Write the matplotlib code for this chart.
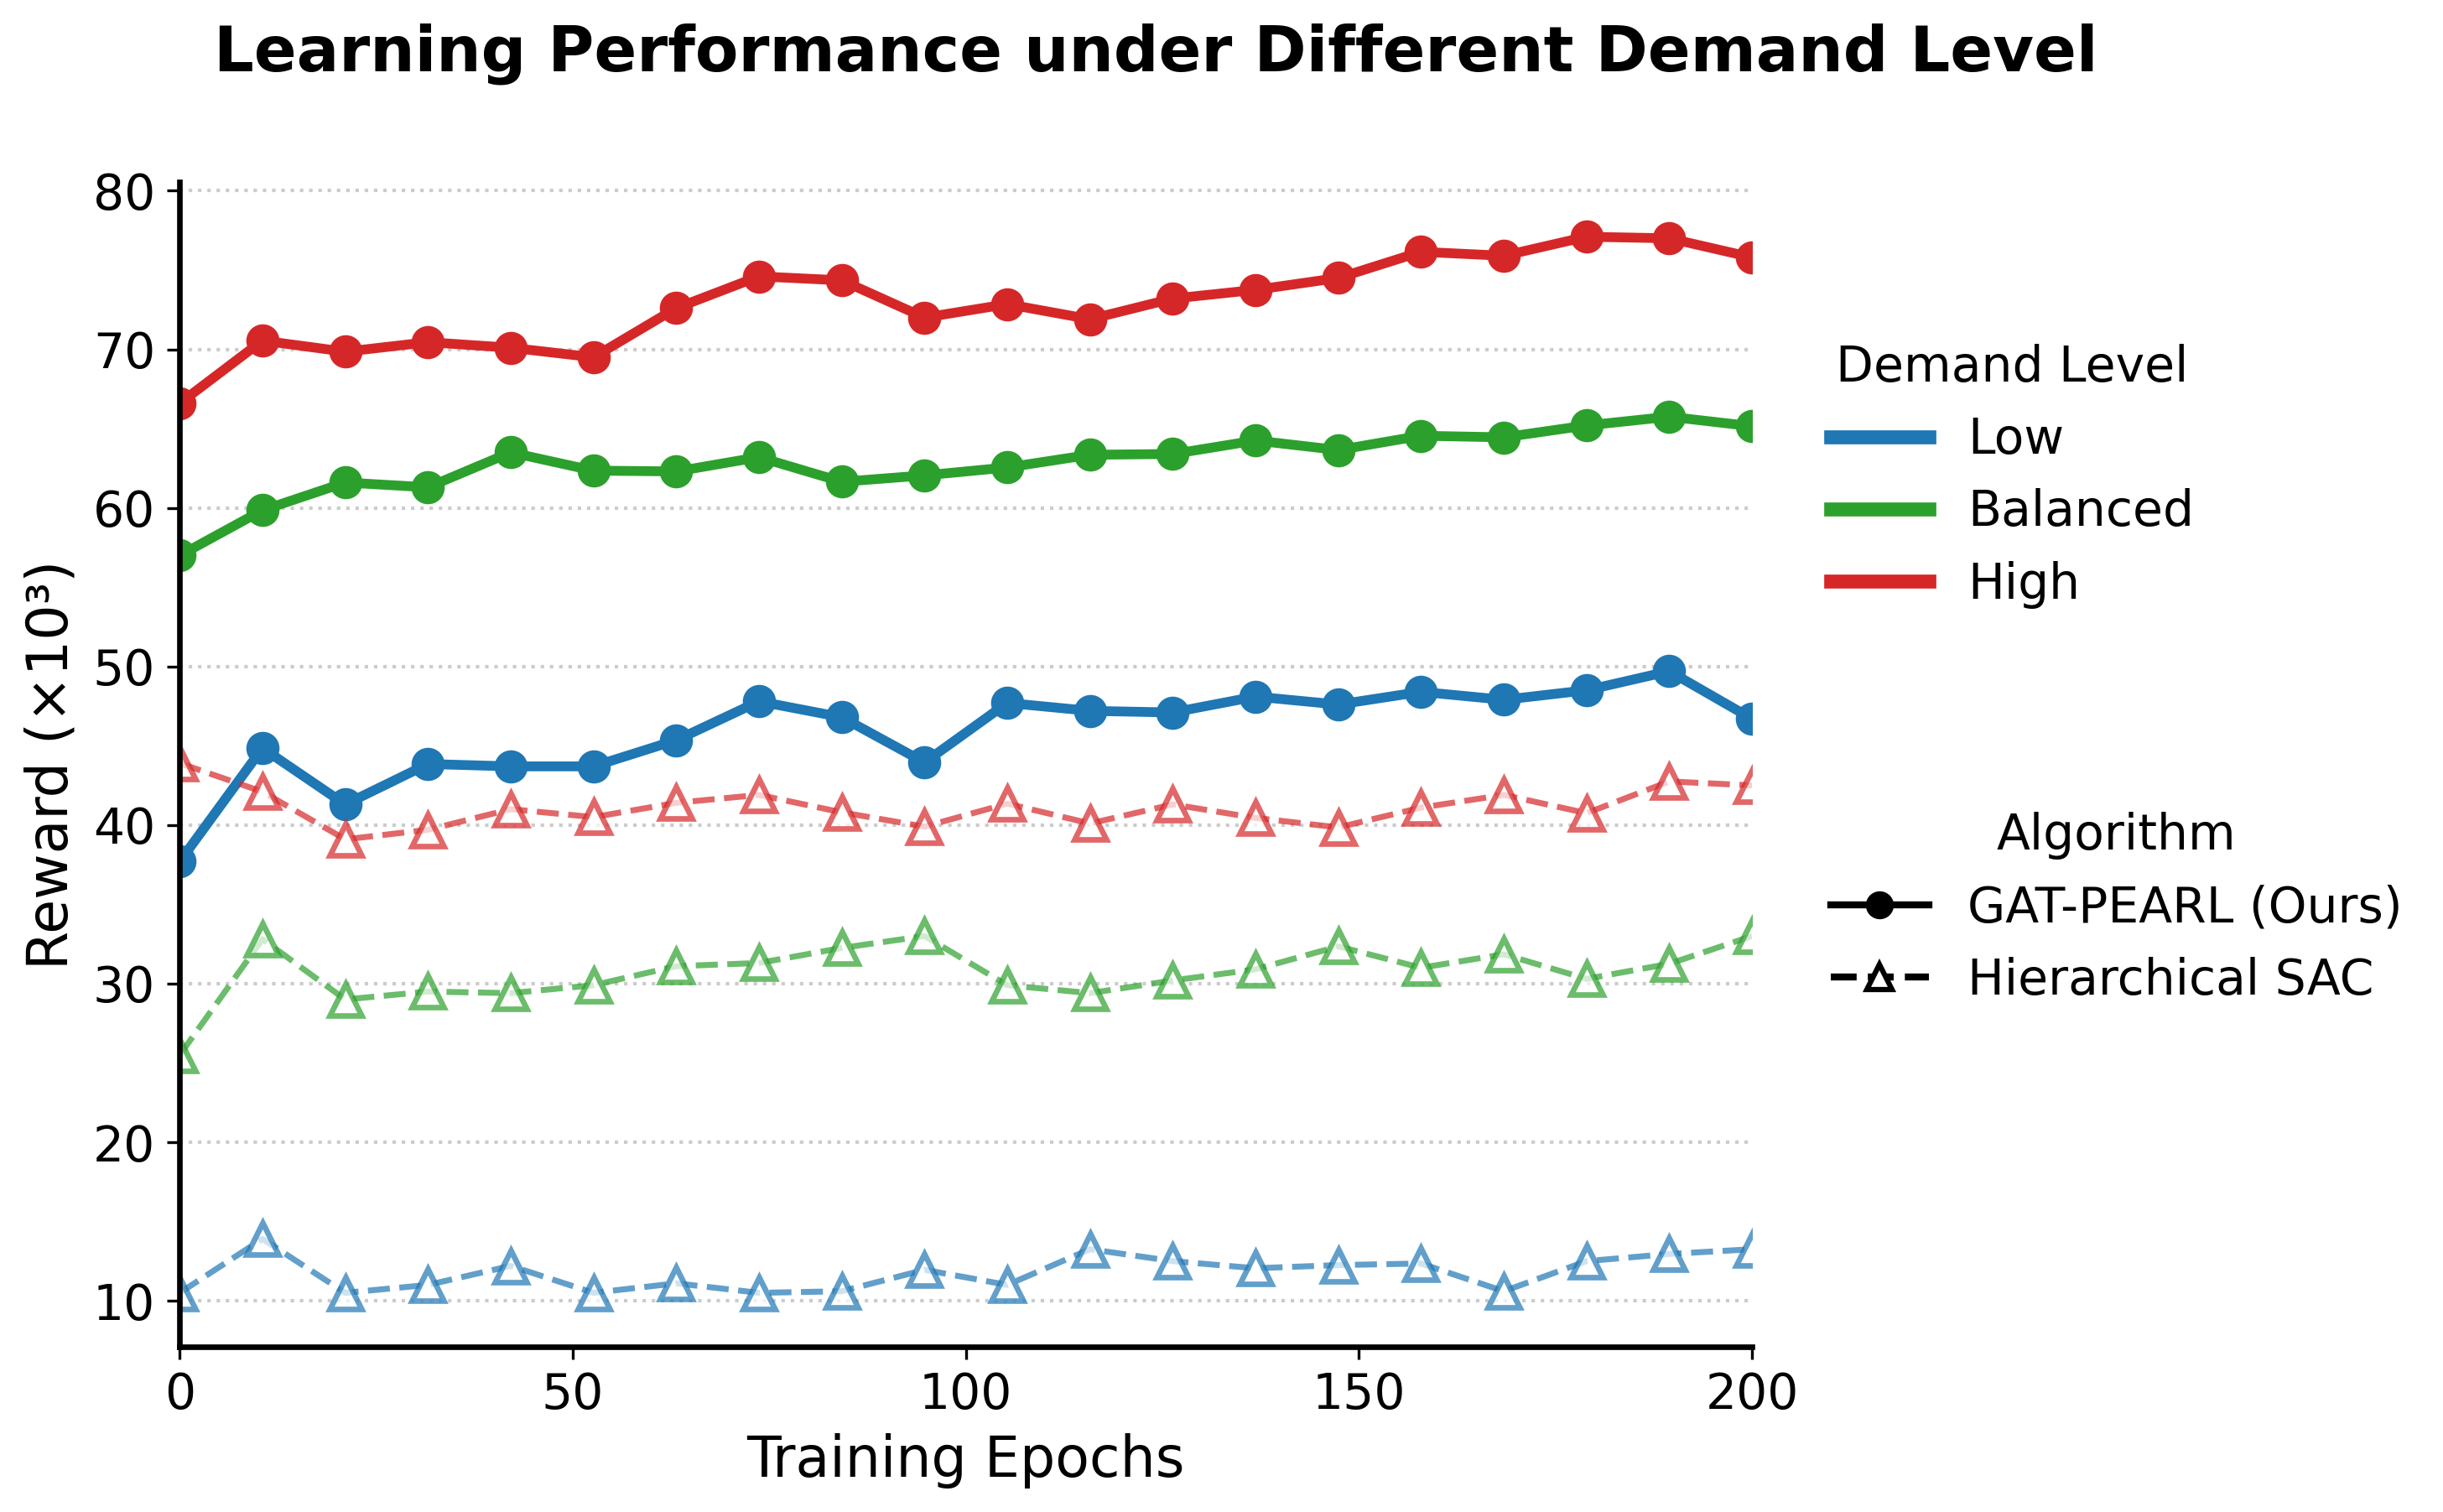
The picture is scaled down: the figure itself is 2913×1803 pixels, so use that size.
import numpy as np
import matplotlib.pyplot as plt
from matplotlib.lines import Line2D

# Epochs (20 evaluation points)
epochs = np.linspace(0, 200, 20)

# GAT-PEARL (Ours) reward, x10^3
gat_low = [37.7, 44.85, 41.3, 43.85, 43.7, 43.7, 45.35, 47.8, 46.8, 43.95,
           47.7, 47.2, 47.1, 48.1, 47.6, 48.4, 47.9, 48.5, 49.7, 46.7]
gat_bal = [57.0, 59.85, 61.6, 61.3, 63.5, 62.35, 62.3, 63.2, 61.65, 62.05,
           62.55, 63.35, 63.4, 64.25, 63.65, 64.55, 64.45, 65.2, 65.75, 65.15]
gat_high = [66.6, 70.55, 69.85, 70.45, 70.1, 69.5, 72.6, 74.6, 74.35, 72.0,
            72.85, 71.9, 73.2, 73.75, 74.5, 76.15, 75.9, 77.1, 77.0, 75.8]

# Hierarchical SAC reward, x10^3
sac_low = [10.5, 13.9, 10.5, 11.0, 12.2, 10.5, 11.1, 10.5, 10.6, 11.95,
           11.0, 13.25, 12.5, 12.05, 12.25, 12.35, 10.6, 12.5, 12.95, 13.25]
sac_bal = [25.5, 32.8, 29.0, 29.5, 29.4, 29.9, 31.1, 31.3, 32.25, 33.0,
           29.9, 29.4, 30.2, 30.9, 32.35, 31.0, 31.85, 30.3, 31.25, 33.0]
sac_high = [43.9, 42.1, 39.1, 39.7, 41.0, 40.5, 41.4, 41.9, 40.8, 39.9,
            41.35, 40.1, 41.3, 40.45, 39.85, 41.1, 41.9, 40.75, 42.75, 42.5]

levels = ['Low', 'Balanced', 'High']
colors = ['#1f77b4', '#2ca02c', '#d62728']

fig = plt.figure(figsize=(9.713, 6.01), dpi=300)
ax = fig.add_axes([0.07354, 0.1094, 0.6434, 0.770])

for gat, sac, c in zip([gat_low, gat_bal, gat_high], [sac_low, sac_bal, sac_high], colors):
    ax.plot(epochs, sac, linestyle='--', color=c, lw=1.7, alpha=0.7,
            marker='^', markersize=9, markerfacecolor='white',
            markeredgecolor=c, markeredgewidth=1.6)
    ax.plot(epochs, gat, linestyle='-', color=c, lw=2.8,
            marker='o', markersize=8.5)

ax.set_xlim(0, 200)
ax.set_ylim(7.11, 80.53)
ax.set_xticks([0, 50, 100, 150, 200])
ax.set_yticks(np.arange(10, 81, 10))
ax.tick_params(labelsize=14)
ax.set_xlabel('Training Epochs', fontsize=16)
ax.set_ylabel('Reward (×10³)', fontsize=16)
ax.grid(axis='y', linestyle=':', color='#cccccc', lw=1.0)
ax.spines['top'].set_visible(False)
ax.spines['right'].set_visible(False)
ax.spines['left'].set_linewidth(1.6)
ax.spines['bottom'].set_linewidth(1.6)

fig.suptitle('Learning Performance under Different Demand Level',
             fontsize=18, fontweight='bold', x=0.473, y=0.985)

# legend 1: demand level colours
h1 = [Line2D([0], [0], color=c, lw=4) for c in colors]
leg1 = ax.legend(h1, levels, title='Demand Level', loc='upper left',
                 bbox_to_anchor=(1.022, 0.899), frameon=False,
                 fontsize=14, title_fontsize=14)
ax.add_artist(leg1)

# legend 2: algorithm styles
h2 = [Line2D([0], [0], color='black', lw=2, marker='o', markersize=7),
      Line2D([0], [0], color='black', lw=2, linestyle='--', marker='^',
             markersize=7, markerfacecolor='white', markeredgewidth=1.5)]
ax.legend(h2, ['GAT-PEARL (Ours)', 'Hierarchical SAC'], title='Algorithm',
          loc='upper left', bbox_to_anchor=(1.022, 0.497), frameon=False,
          fontsize=14, title_fontsize=14)

fig.savefig('out.png', dpi=300)
